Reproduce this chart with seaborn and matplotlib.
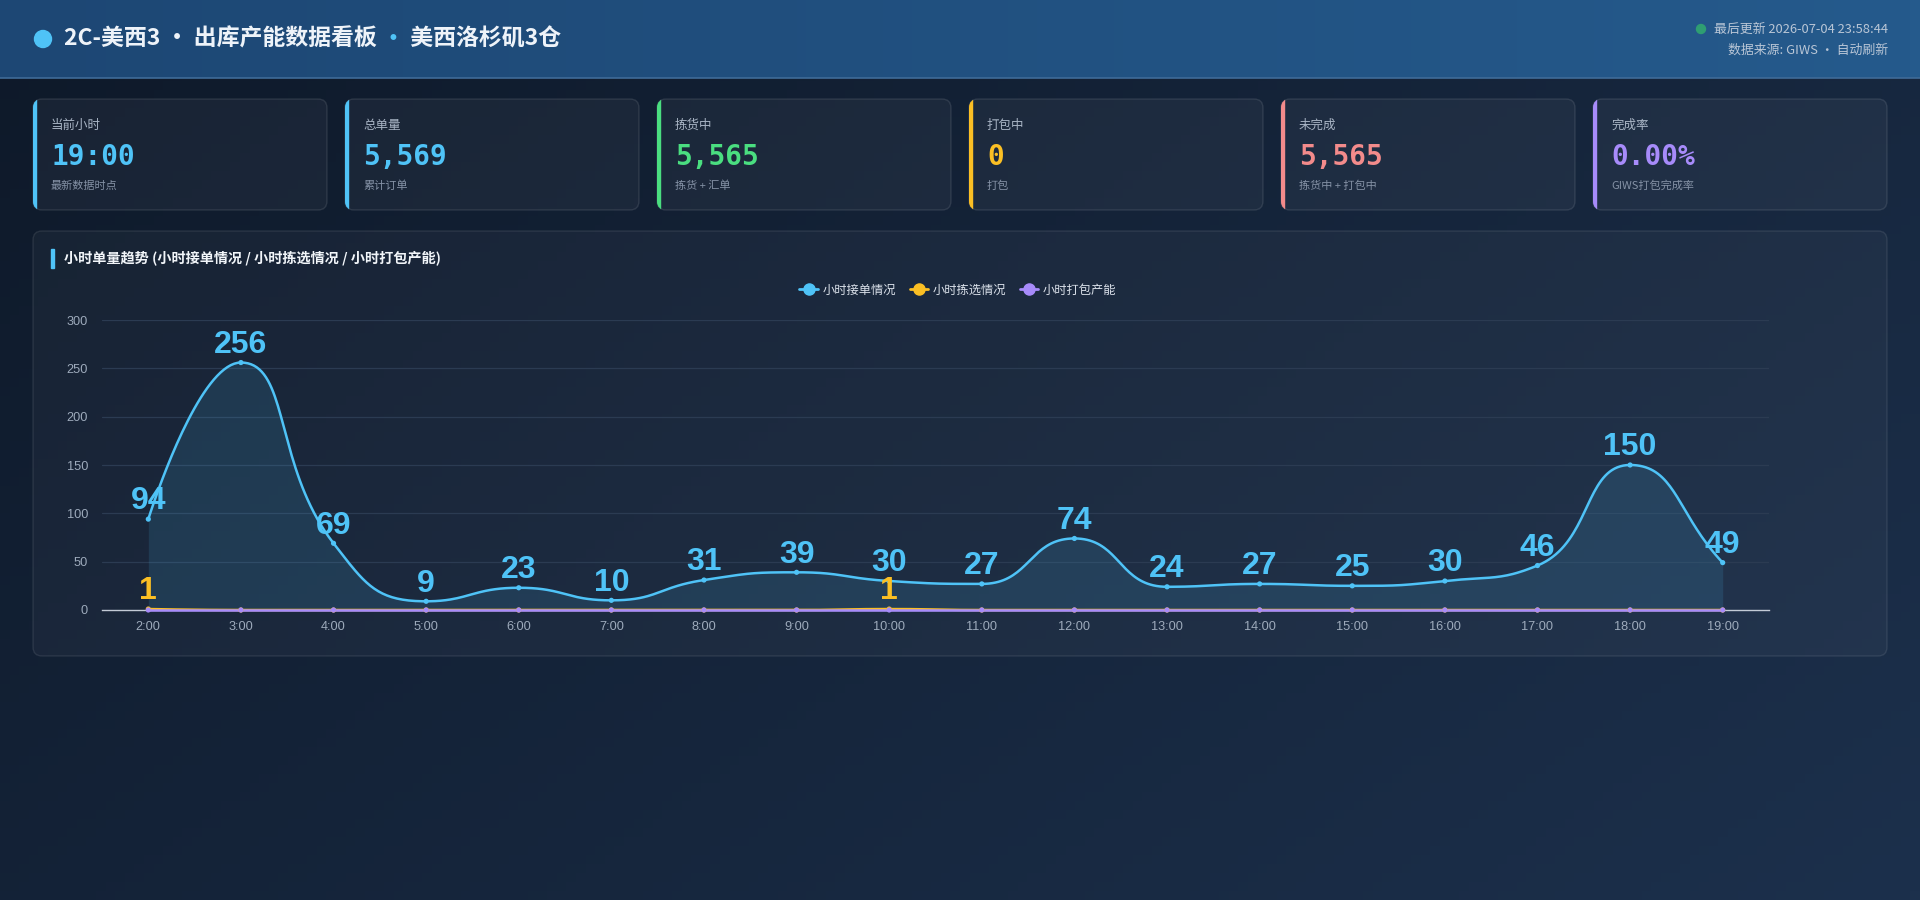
import numpy as np
import pandas as pd
import seaborn as sns
import matplotlib.pyplot as plt
from matplotlib.patches import FancyBboxPatch, Rectangle, Circle
from matplotlib.lines import Line2D

# 数据
hours = ["2:00", "3:00", "4:00", "5:00", "6:00", "7:00", "8:00", "9:00", "10:00",
         "11:00", "12:00", "13:00", "14:00", "15:00", "16:00", "17:00", "18:00", "19:00"]
orders = [94, 256, 69, 9, 23, 10, 31, 39, 30, 27, 74, 24, 27, 25, 30, 46, 150, 49]
picking = [1, 0, 0, 0, 0, 0, 0, 0, 1, 0, 0, 0, 0, 0, 0, 0, 0, 0]
packing = [0, 0, 0, 0, 0, 0, 0, 0, 0, 0, 0, 0, 0, 0, 0, 0, 0, 0]
series_names = ["小时接单情况", "小时拣选情况", "小时打包产能"]
series_colors = ["#4fc3f7", "#fbbf24", "#a78bfa"]

card_titles = ["当前小时", "总单量", "拣货中", "打包中", "未完成", "完成率"]
card_values = ["19:00", "5,569", "5,565", "0", "5,565", "0.00%"]
card_notes = ["最新数据时点", "累计订单", "拣货 + 汇单", "打包", "拣货中 + 打包中", "GIWS打包完成率"]
card_colors = ["#4fc3f7", "#4fc3f7", "#4ade80", "#fbbf24", "#f38b8b", "#a78bfa"]

title_left = "2C-美西3 · 出库产能数据看板 "
title_right = " 美西洛杉矶3仓"
update_text = "最后更新 2026-07-04 23:58:44"
source_text = "数据来源: GIWS · 自动刷新"
chart_title = "小时单量趋势 (小时接单情况 / 小时拣选情况 / 小时打包产能)"

W, H = 1920, 900
CJK = ["Noto Sans CJK SC", "DejaVu Sans"]
LAT = ["Liberation Sans", "DejaVu Sans"]

sns.set_theme(style="dark")
plt.rcParams["font.family"] = CJK
plt.rcParams["axes.unicode_minus"] = False

fig = plt.figure(figsize=(W / 100, H / 100), dpi=100)

# 背景层 (像素坐标)
bg = fig.add_axes([0, 0, 1, 1], zorder=0)
bg.set_xlim(0, W)
bg.set_ylim(H, 0)
bg.axis("off")

gx, gy = np.meshgrid(np.linspace(0, 1, 200), np.linspace(0, 1, 100))
t = (gx * 0.6 + gy * 0.4)
c0 = np.array([0x0e, 0x19, 0x29]) / 255
c1 = np.array([0x1c, 0x30, 0x4c]) / 255
img = c0[None, None, :] * (1 - t[..., None]) + c1[None, None, :] * t[..., None]
bg.imshow(img, extent=[0, W, H, 0], aspect="auto", zorder=0)

# 顶部栏
hx = np.linspace(0, 1, 200)[None, :].repeat(2, axis=0)
h0 = np.array([0x1d, 0x47, 0x74]) / 255
h1 = np.array([0x25, 0x5a, 0x8c]) / 255
himg = h0[None, None, :] * (1 - hx[..., None]) + h1[None, None, :] * hx[..., None]
bg.imshow(himg, extent=[0, W, 78, 0], aspect="auto", zorder=1)
bg.plot([0, W], [78, 78], color="#3f6b98", lw=1.2, zorder=2)
bg.set_xlim(0, W)
bg.set_ylim(H, 0)

bg.add_patch(Circle((43, 39), 8.5, color="#4fc3f7", zorder=3))
t1 = bg.text(64, 39, title_left, color="#eef3f9", fontsize=16.5, fontweight="bold",
             va="center", ha="left", zorder=3)
fig.canvas.draw()
x_dot = t1.get_window_extent().x1
t2 = bg.text(x_dot, 39, "·", color="#4fc3f7", fontsize=16.5, fontweight="bold",
             va="center", ha="left", zorder=3)
fig.canvas.draw()
x_end = t2.get_window_extent().x1
bg.text(x_end, 39, title_right, color="#eef3f9", fontsize=16.5, fontweight="bold",
        va="center", ha="left", zorder=3)

bg.add_patch(Circle((1701, 29), 4.5, color="#2f9e72", zorder=3))
bg.text(1888, 29, update_text, color="#b9c6d6", fontsize=9.3, ha="right", va="center", zorder=3)
bg.text(1888, 50, source_text, color="#b9c6d6", fontsize=9.3, ha="right", va="center", zorder=3)

# 指标卡片
card_w, card_h, card_y = 294, 111, 99
for i in range(6):
    x0 = 33 + i * 312
    box = FancyBboxPatch((x0, card_y), card_w, card_h,
                         boxstyle="round,pad=0,rounding_size=9",
                         facecolor=(1, 1, 1, 0.045), edgecolor=(1, 1, 1, 0.10),
                         lw=1.0, zorder=3)
    bg.add_patch(box)
    bar = Rectangle((x0, card_y), 3, card_h, color=card_colors[i], zorder=4)
    bg.add_patch(bar)
    bar.set_clip_path(box)
    bg.text(x0 + 18, 125, card_titles[i], color="#a9b5c5", fontsize=9, va="center", zorder=5)
    bg.text(x0 + 18, 157, card_values[i], color=card_colors[i], fontsize=20,
            fontweight="bold", family=["DejaVu Sans Mono"], va="center", zorder=5)
    bg.text(x0 + 18, 186, card_notes[i], color="#8592a6", fontsize=8, va="center", zorder=5)

# 图表面板
panel = FancyBboxPatch((33, 231), 1854, 425, boxstyle="round,pad=0,rounding_size=9",
                       facecolor=(1, 1, 1, 0.035), edgecolor=(1, 1, 1, 0.09), lw=1.0, zorder=3)
bg.add_patch(panel)
bg.add_patch(Rectangle((51, 249), 3, 19, color="#4fc3f7", zorder=4))
bg.text(64, 258, chart_title, color="#f1f5f9", fontsize=10.2, fontweight="bold",
        va="center", zorder=5)

# 折线图
ax_l, ax_r, ax_t, ax_b = 102, 1769, 320, 610
ax = fig.add_axes([ax_l / W, 1 - ax_b / H, (ax_r - ax_l) / W, (ax_b - ax_t) / H], zorder=2)
ax.set_facecolor("none")
n = len(hours)
ax.set_xlim(-0.5, n - 0.5)
ax.set_ylim(0, 300)
sx = (ax_r - ax_l) / n
sy = (ax_b - ax_t) / 300


def clamp(v, a, b):
    lo, hi = min(a, b), max(a, b)
    return min(max(v, lo), hi)


def smooth_curve(vals, smooth=0.5, steps=40):
    # echarts 风格的平滑 (在像素空间计算控制点)
    px = np.arange(len(vals)) * sx
    py = np.asarray(vals, dtype=float) * sy
    m = len(px)
    cin = np.zeros((m, 2))
    cout = np.zeros((m, 2))
    for i in range(m):
        x, y = px[i], py[i]
        if i == 0:
            cout[i] = (x, y)
            cin[i] = (x, y)
            continue
        if i == m - 1:
            vx, vy = x - px[i - 1], y - py[i - 1]
            cin[i] = (x - vx * smooth, y - vy * smooth)
            continue
        vx, vy = px[i + 1] - px[i - 1], py[i + 1] - py[i - 1]
        l0 = np.hypot(x - px[i - 1], y - py[i - 1])
        l1 = np.hypot(px[i + 1] - x, py[i + 1] - y)
        r = l1 / (l0 + l1)
        ncx = clamp(x + vx * smooth * r, x, px[i + 1])
        ncy = clamp(y + vy * smooth * r, y, py[i + 1])
        dx, dy = ncx - x, ncy - y
        icx = clamp(x - dx * l0 / l1, px[i - 1], x)
        icy = clamp(y - dy * l0 / l1, py[i - 1], y)
        dx, dy = x - icx, y - icy
        ncx, ncy = x + dx * l1 / l0, y + dy * l1 / l0
        cin[i] = (icx, icy)
        cout[i] = (ncx, ncy)
    tt = np.linspace(0, 1, steps)[:, None]
    pts = []
    for i in range(m - 1):
        p0 = np.array([px[i], py[i]])
        p3 = np.array([px[i + 1], py[i + 1]])
        b = ((1 - tt) ** 3 * p0 + 3 * (1 - tt) ** 2 * tt * cout[i]
             + 3 * (1 - tt) * tt ** 2 * cin[i + 1] + tt ** 3 * p3)
        pts.append(b if i == 0 else b[1:])
    pts = np.vstack(pts)
    return pts[:, 0] / sx, pts[:, 1] / sy


all_series = [orders, picking, packing]
dense = []
points = []
for name, vals in zip(series_names, all_series):
    xs, ys = smooth_curve(vals)
    dense.append(pd.DataFrame({"x": xs, "y": ys, "series": name}))
    points.append(pd.DataFrame({"x": np.arange(n), "y": vals, "series": name}))
dense = pd.concat(dense, ignore_index=True)
points = pd.concat(points, ignore_index=True)

ax.yaxis.grid(True, color="#2b3b52", lw=0.9)
ax.xaxis.grid(False)
ax.set_axisbelow(True)

d0 = dense[dense["series"] == series_names[0]]
ax.fill_between(d0["x"], 0, d0["y"], color="#4fc3f7", alpha=0.13, lw=0, zorder=1)

sns.lineplot(data=dense, x="x", y="y", hue="series", palette=series_colors,
             hue_order=series_names, sort=False, estimator=None, lw=1.8,
             legend=False, ax=ax, zorder=3, clip_on=False)
sns.scatterplot(data=points, x="x", y="y", hue="series", palette=series_colors,
                hue_order=series_names, s=14, edgecolor="none", legend=False,
                ax=ax, zorder=4, clip_on=False)

for i, v in enumerate(orders):
    ax.annotate(str(v), (i, v), xytext=(0, 7), textcoords="offset points",
                ha="center", va="baseline", fontsize=23, fontweight="bold",
                color="#4fc3f7", family=LAT, zorder=6, annotation_clip=False)
for i, v in enumerate(picking):
    if v:
        ax.annotate(str(v), (i, v), xytext=(0, 7), textcoords="offset points",
                    ha="center", va="baseline", fontsize=23, fontweight="bold",
                    color="#fbbf24", family=LAT, zorder=6, annotation_clip=False)

ax.set_xticks(range(n))
ax.set_xticklabels(hours, family=LAT)
ax.set_xticks(np.arange(-0.5, n, 1), minor=True)
ax.set_yticks([0, 50, 100, 150, 200, 250, 300])
ax.set_yticklabels(["0", "50", "100", "150", "200", "250", "300"], family=LAT)
ax.tick_params(axis="x", which="major", length=0, pad=8, labelsize=9.2, colors="#9eabbc")
ax.tick_params(axis="x", which="minor", length=5, width=1, color="#c3cbd6", direction="out")
ax.tick_params(axis="y", length=0, pad=10, labelsize=9.2, colors="#9eabbc")
ax.set_xlabel("")
ax.set_ylabel("")
for s in ["top", "right", "left"]:
    ax.spines[s].set_visible(False)
ax.spines["bottom"].set_color("#c3cbd6")
ax.spines["bottom"].set_linewidth(1)
ax.spines["bottom"].set_zorder(2)

handles = [Line2D([], [], color=c, lw=2, marker="o", markersize=8) for c in series_colors]
fig.legend(handles, series_names, loc="center", bbox_to_anchor=(958 / W, 1 - 290 / H),
           ncol=3, frameon=False, fontsize=8.8, labelcolor="#dde3ec",
           handlelength=1.5, handletextpad=0.4, columnspacing=1.1)

fig.savefig("out.png", dpi=100)
